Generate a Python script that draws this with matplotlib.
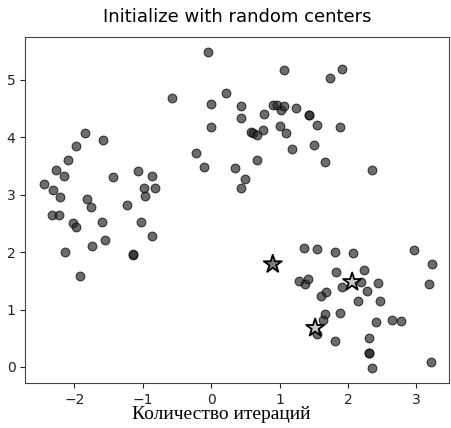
import numpy as np
import matplotlib

matplotlib.use("Agg")
import matplotlib.pyplot as plt

#! data points (x, y)
left_x = [-1.84, -1.58, -1.98, -2.09, -2.27, -1.07, -2.16, -0.87, -1.44, -2.44,
          -0.98, -0.82, -2.32, -0.97, -2.21, -1.81, -1.76, -1.23, -2.33, -2.23,
          -2.02, -1.98, -1.60, -1.02, -1.56, -0.86, -1.75, -2.14, -1.15, -1.15,
          -1.92]
left_y = [4.08, 3.95, 3.85, 3.60, 3.43, 3.42, 3.33, 3.32, 3.31, 3.19,
          3.12, 3.11, 3.08, 2.98, 2.96, 2.93, 2.78, 2.82, 2.64, 2.65,
          2.51, 2.43, 2.53, 2.53, 2.22, 2.28, 2.10, 2.00, 1.95, 1.96,
          1.59]

top_x = [-0.05, 1.07, 1.91, 1.73, 0.22, -0.57, 0.00, 0.43, 0.91, 0.96,
         1.02, 1.07, 1.24, 0.43, 0.77, 1.43, 1.43, 0.00, 1.55, 1.88,
         0.58, 0.61, 0.67, 0.75, 1.01, 1.09, -0.23, -0.10, 0.35, 0.67,
         1.18, 1.50, 1.66, 2.35, 0.49, 0.44]
top_y = [5.48, 5.18, 5.19, 5.03, 4.77, 4.69, 4.58, 4.54, 4.56, 4.57,
         4.48, 4.54, 4.51, 4.34, 4.40, 4.38, 4.39, 4.18, 4.22, 4.18,
         4.10, 4.08, 4.04, 4.13, 4.20, 4.07, 3.72, 3.49, 3.46, 3.60,
         3.80, 3.86, 3.57, 3.43, 3.28, 3.12]

right_x = [1.36, 1.54, 1.81, 2.07, 2.97, 3.23, 2.24, 1.82, 1.29, 1.37,
           1.42, 2.19, 2.44, 3.19, 1.91, 1.68, 2.28, 1.60, 2.14, 2.47,
           1.66, 1.88, 1.64, 2.64, 2.77, 2.41, 1.54, 1.81, 2.31, 2.30,
           2.30, 2.35, 3.21]
right_y = [2.07, 2.05, 2.01, 1.98, 2.04, 1.79, 1.69, 1.65, 1.49, 1.44,
           1.54, 1.48, 1.46, 1.45, 1.39, 1.31, 1.33, 1.23, 1.15, 1.15,
           0.93, 0.94, 0.82, 0.81, 0.80, 0.78, 0.57, 0.46, 0.50, 0.24,
           0.25, -0.02, 0.09]

#! the random centers
center_x = [0.90, 2.06, 1.52]
center_y = [1.79, 1.48, 0.68]
center_col = ["#7c7c7c", "#c8c8c8", "#c8c8c8"]

title = "Initialize with random centers"
xlabel = "Количество итераций"

# %%
#! plot

plt_axes = [0.056, 0.105, 0.94, 0.809]  # left, bottom, width, height

fig = plt.figure(figsize=(4.51, 4.28), dpi=100)
ax = plt.axes(plt_axes)

all_x = left_x + top_x + right_x
all_y = left_y + top_y + right_y
ax.scatter(all_x, all_y, s=40, facecolor="#262626", edgecolor="black",
           linewidth=0.8, alpha=0.68, zorder=2)

ax.scatter(center_x, center_y, s=185, marker="*", c=center_col,
           edgecolor="black", linewidth=1.3, zorder=3)

ax.set_xlim(-2.72, 3.48)
ax.set_ylim(-0.28, 5.75)
ax.set_xticks([-2, -1, 0, 1, 2, 3])
ax.set_yticks([0, 1, 2, 3, 4, 5])
ax.tick_params(labelsize=10, colors="#222222")
for sp in ax.spines.values():
    sp.set_color("#444444")

ax.set_title(title, fontsize=13, pad=11)
ax.set_xlabel(xlabel, family="Liberation Serif", fontsize=14)
ax.xaxis.set_label_coords(0.463, -0.067)

plt.savefig("out.png", dpi=100)
